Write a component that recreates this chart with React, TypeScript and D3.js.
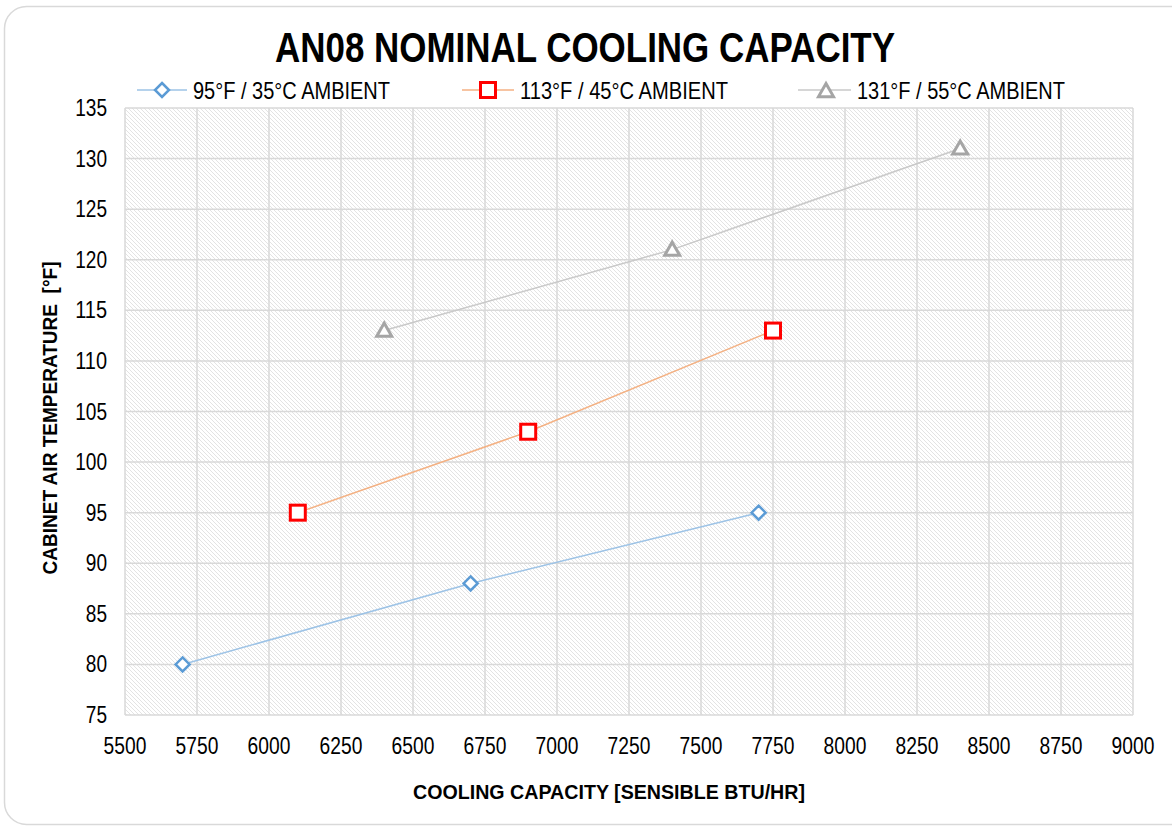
import React from "react";
import * as d3 from "d3";

const title = "AN08 NOMINAL COOLING CAPACITY";
const xTitle = "COOLING CAPACITY [SENSIBLE BTU/HR]";
const yTitle = "CABINET AIR TEMPERATURE\u00a0 [°F]";

const seriesNames = ["95°F / 35°C AMBIENT", "113°F / 45°C AMBIENT", "131°F / 55°C AMBIENT"];
const s1x = [5700, 6700, 7700];
const s1y = [80, 88, 95];
const s2x = [6100, 6900, 7750];
const s2y = [95, 103, 113];
const s3x = [6400, 7400, 8400];
const s3y = [113, 121, 131];

const xTicks = [5500, 5750, 6000, 6250, 6500, 6750, 7000, 7250, 7500, 7750, 8000, 8250, 8500, 8750, 9000];
const yTicks = [75, 80, 85, 90, 95, 100, 105, 110, 115, 120, 125, 130, 135];

const W = 1172, H = 827;
const plot = { l: 125, r: 1133, t: 108, b: 715 };
const FONT = "'Liberation Sans Narrow', 'Liberation Sans', Arial, sans-serif";

const lineColors = ["#9dc3e6", "#f4b183", "#c9c9c9"];
const markerColors = ["#5b9bd5", "#ff0000", "#a5a5a5"];

function Marker({ kind, x, y, color }: { kind: number; x: number; y: number; color: string }) {
  if (kind === 0) {
    const r = 7;
    return (
      <path d={`M${x},${y - r}L${x + r},${y}L${x},${y + r}L${x - r},${y}Z`} fill="#fff" stroke={color} strokeWidth={2.5} />
    );
  }
  if (kind === 1) {
    return <rect x={x - 7.5} y={y - 7.5} width={15} height={15} fill="#fff" stroke={color} strokeWidth={3} />;
  }
  const s = 7.5;
  return (
    <path d={`M${x},${y - s}L${x + s},${y + s * 0.75}L${x - s},${y + s * 0.75}Z`} fill="#fff" stroke={color} strokeWidth={3} />
  );
}

export default function App() {
  const x = d3.scaleLinear().domain([5500, 9000]).range([plot.l, plot.r]);
  const y = d3.scaleLinear().domain([75, 135]).range([plot.b, plot.t]);
  const series = [
    s1x.map((v, i) => [v, s1y[i]] as [number, number]),
    s2x.map((v, i) => [v, s2y[i]] as [number, number]),
    s3x.map((v, i) => [v, s3y[i]] as [number, number]),
  ];
  const line = d3
    .line<[number, number]>()
    .x((d) => x(d[0]))
    .y((d) => y(d[1]));

  const legend = [
    { lx1: 137, lx2: 187, mx: 162, tx: 193, tw: 197 },
    { lx1: 462, lx2: 514, mx: 488, tx: 520, tw: 208 },
    { lx1: 798, lx2: 851, mx: 826, tx: 857, tw: 208 },
  ];

  return (
    <svg width={W} height={H} style={{ position: "absolute", left: 0, top: 0, background: "#fff" }}>
      <defs>
        <pattern id="hatch" width={4} height={4} patternUnits="userSpaceOnUse">
          <path d="M-1,-1L5,5M3,-1L5,1M-1,3L1,5" stroke="#e0e0e0" strokeWidth={0.9} />
        </pattern>
      </defs>
      <rect x={4.5} y={6.5} width={1190} height={818} rx={22} fill="#fff" stroke="#d9d9d9" strokeWidth={1.5} />
      <text
        x={585}
        y={62}
        textAnchor="middle"
        fontFamily={FONT}
        fontWeight="bold"
        fontSize={42}
        textLength={620}
        lengthAdjust="spacingAndGlyphs"
        fill="#000"
      >
        {title}
      </text>

      <rect x={plot.l} y={plot.t} width={plot.r - plot.l} height={plot.b - plot.t} fill="url(#hatch)" />
      {xTicks.map((t) => (
        <line key={"gx" + t} x1={x(t)} x2={x(t)} y1={plot.t} y2={plot.b} stroke="#d9d9d9" strokeWidth={1.5} />
      ))}
      {yTicks.map((t) => (
        <line key={"gy" + t} x1={plot.l} x2={plot.r} y1={y(t)} y2={y(t)} stroke="#d9d9d9" strokeWidth={1.5} />
      ))}

      {yTicks.map((t) => (
        <text
          key={"ty" + t}
          x={107}
          y={y(t) + 8}
          textAnchor="end"
          fontFamily={FONT}
          fontSize={23}
          textLength={String(t).length * 10.6}
          lengthAdjust="spacingAndGlyphs"
          fill="#000"
        >
          {t}
        </text>
      ))}
      {xTicks.map((t) => (
        <text
          key={"tx" + t}
          x={x(t)}
          y={754}
          textAnchor="middle"
          fontFamily={FONT}
          fontSize={23}
          textLength={String(t).length * 10.7}
          lengthAdjust="spacingAndGlyphs"
          fill="#000"
        >
          {t}
        </text>
      ))}

      {series.map((s, i) => (
        <path key={"l" + i} d={line(s) || ""} fill="none" stroke={lineColors[i]} strokeWidth={1.5} />
      ))}
      {series.map((s, i) =>
        s.map((d, j) => <Marker key={"m" + i + j} kind={i} x={x(d[0])} y={y(d[1])} color={markerColors[i]} />)
      )}

      {legend.map((L, i) => (
        <g key={"lg" + i}>
          <line x1={L.lx1} x2={L.lx2} y1={90} y2={90} stroke={lineColors[i]} strokeWidth={1.5} />
          <Marker kind={i} x={L.mx} y={i === 2 ? 91 : 90} color={markerColors[i]} />
          <text
            x={L.tx}
            y={99}
            fontFamily={FONT}
            fontSize={24}
            textLength={L.tw}
            lengthAdjust="spacingAndGlyphs"
            fill="#000"
          >
            {seriesNames[i]}
          </text>
        </g>
      ))}

      <text
        x={609}
        y={799}
        textAnchor="middle"
        fontFamily={FONT}
        fontWeight="bold"
        fontSize={20}
        textLength={392}
        lengthAdjust="spacingAndGlyphs"
        fill="#000"
      >
        {xTitle}
      </text>
      <text
        transform={`translate(57,418) rotate(-90)`}
        textAnchor="middle"
        fontFamily={FONT}
        fontWeight="bold"
        fontSize={20}
        textLength={313}
        lengthAdjust="spacingAndGlyphs"
        fill="#000"
      >
        {yTitle}
      </text>
    </svg>
  );
}
